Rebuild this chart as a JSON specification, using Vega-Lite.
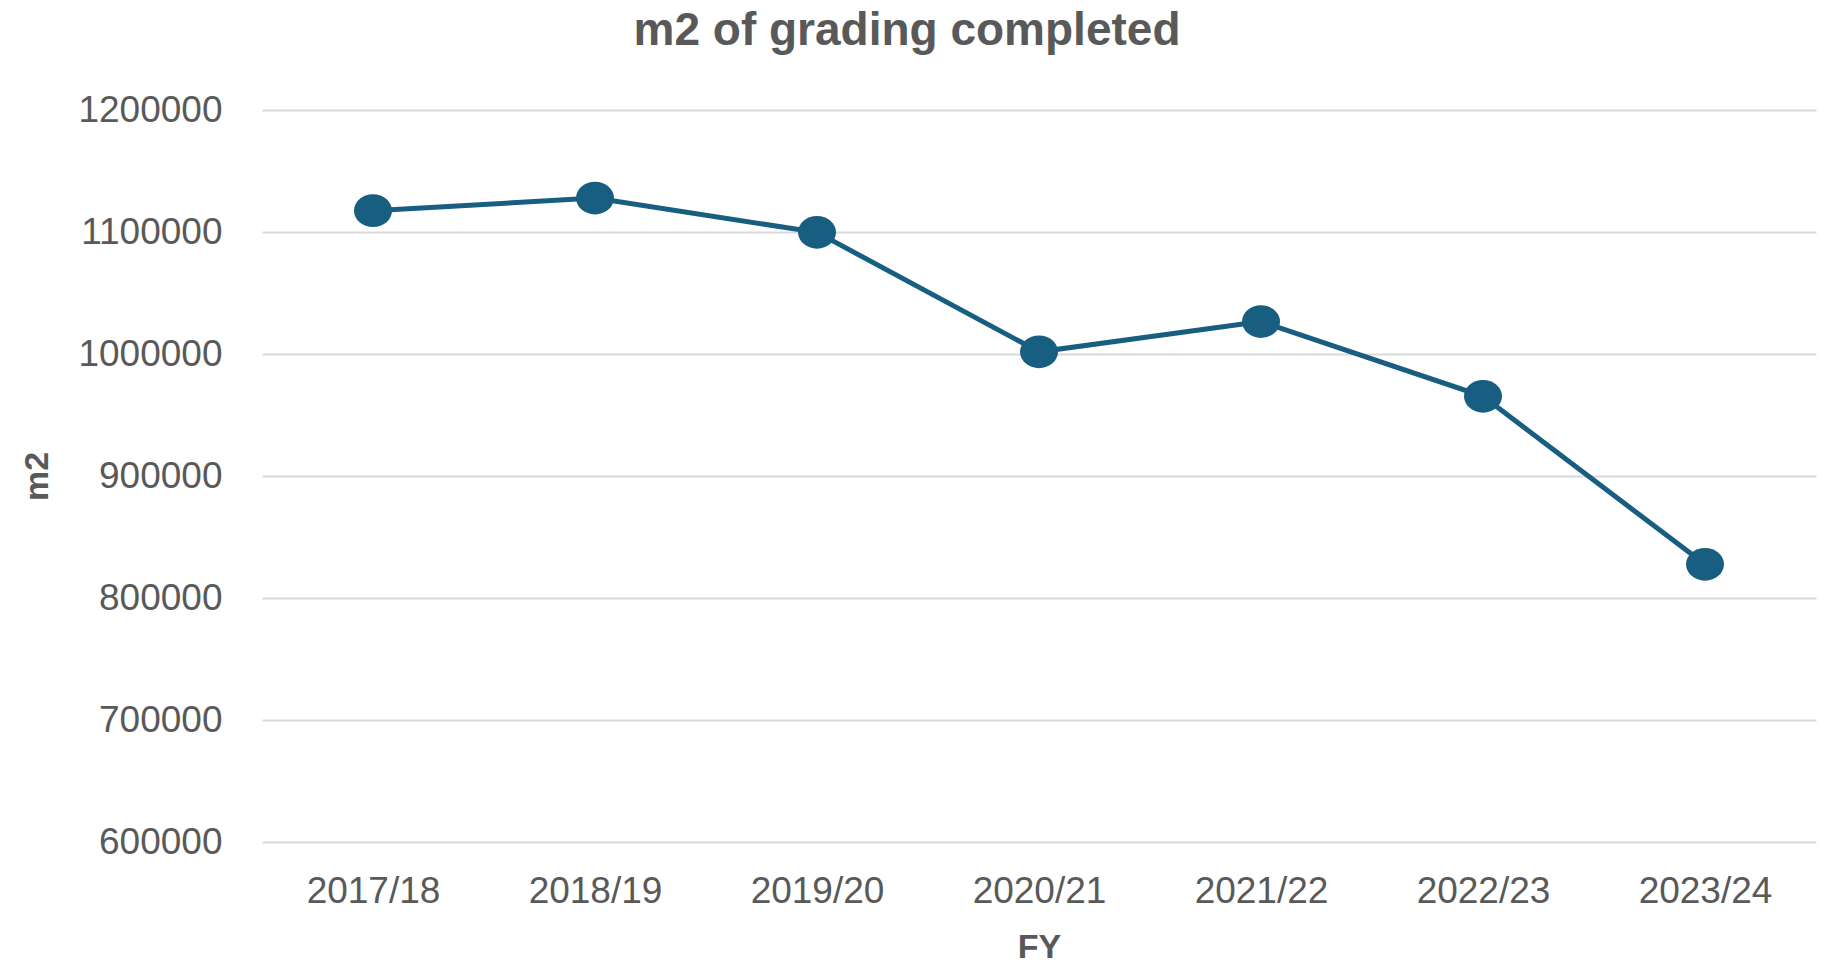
{
  "$schema": "https://vega.github.io/schema/vega-lite/v6.json",
  "width": 1554,
  "height": 732,
  "autosize": "none",
  "padding": {"left": 262, "top": 110, "right": 12, "bottom": 125},
  "background": "white",
  "title": {
    "text": "m2 of grading completed",
    "font": "Liberation Sans",
    "fontSize": 46,
    "fontWeight": "bold",
    "color": "#595959",
    "anchor": "middle",
    "frame": "group",
    "dx": -132,
    "offset": 36
  },
  "data": {
    "values": [
      {"FY": "2017/18", "m2": 1117500},
      {"FY": "2018/19", "m2": 1127800},
      {"FY": "2019/20", "m2": 1099700},
      {"FY": "2020/21", "m2": 1001800},
      {"FY": "2021/22", "m2": 1026600},
      {"FY": "2022/23", "m2": 965300},
      {"FY": "2023/24", "m2": 827600}
    ]
  },
  "config": {
    "view": {"stroke": null},
    "axis": {
      "labelFont": "Liberation Sans",
      "titleFont": "Liberation Sans",
      "labelColor": "#595959",
      "titleColor": "#595959",
      "gridColor": "#d9d9d9",
      "gridWidth": 2,
      "domain": false,
      "ticks": false
    }
  },
  "encoding": {
    "x": {
      "field": "FY",
      "type": "ordinal",
      "sort": null,
      "scale": {"type": "point", "padding": 0.5},
      "axis": {
        "labelAngle": 0,
        "labelFontSize": 37,
        "labelPadding": 31,
        "grid": false,
        "title": "FY",
        "titleFontSize": 34,
        "titleFontWeight": "bold",
        "titleX": 777,
        "titleY": 105,
        "titleBaseline": "middle",
        "titleAlign": "center"
      }
    },
    "y": {
      "field": "m2",
      "type": "quantitative",
      "scale": {"domain": [600000, 1200000], "nice": false, "zero": false},
      "axis": {
        "values": [600000, 700000, 800000, 900000, 1000000, 1100000, 1200000],
        "format": "d",
        "labelFontSize": 37,
        "labelPadding": 40,
        "grid": true,
        "title": "m2",
        "titleFontSize": 34,
        "titleFontWeight": "bold",
        "titleX": -225,
        "titleY": 366,
        "titleAngle": 270,
        "titleBaseline": "middle",
        "titleAlign": "center"
      }
    }
  },
  "layer": [
    {"mark": {"type": "line", "color": "#175e80", "strokeWidth": 5}},
    {"mark": {"type": "point", "filled": true, "opacity": 1, "color": "#175e80", "size": 1444, "shape": "M-1,0A1,0.86 0 1,1 1,0A1,0.86 0 1,1 -1,0Z"}}
  ]
}
